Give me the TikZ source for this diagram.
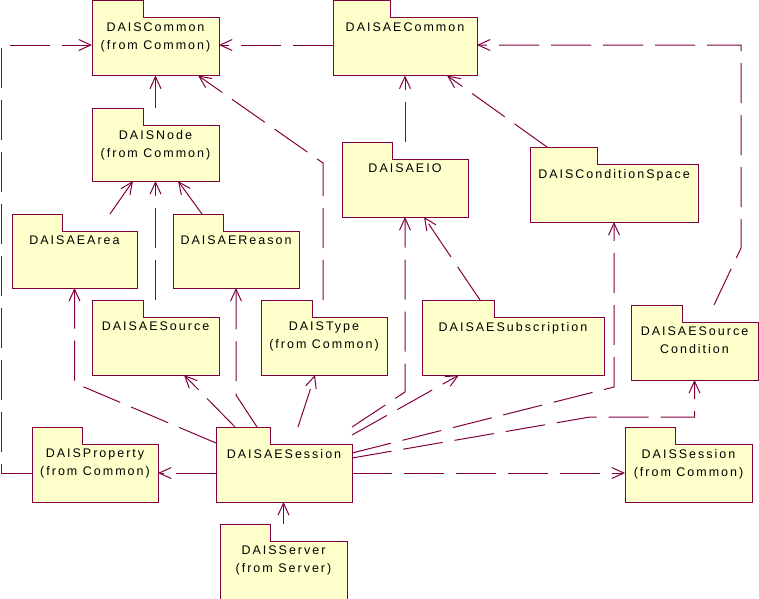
\documentclass[tikz,border=0pt]{standalone}
\usepackage{fontspec}
\setmainfont{Liberation Sans}[LetterSpace=16]
\usetikzlibrary{arrows.meta}

\definecolor{rosered}{RGB}{128,0,64}
\definecolor{roseyellow}{RGB}{255,255,204}

\tikzset{
  pkgline/.style={draw=rosered, fill=roseyellow, line width=1pt},
  pkg/.style={anchor=north west, inner sep=0pt, outer sep=0pt,
    label={[pkgtext]north:#1}},
  pkgtext/.style={anchor=north, yshift=-22pt, inner sep=0pt, align=center,
    font=\fontsize{12.5}{18}\selectfont},
  dep/.style={draw=rosered, line width=1pt, dash pattern=on 40pt off 12pt,
    -{Straight Barb[length=12pt, width=11pt]}},
}

% name, x, y, width, height, tab width, text
\newcommand{\pkg}[7]{%
  \draw[pkgline] (#2,#3) -- ++(#6,0) -- ++(0,17) -- (#2+#4,#3+17)
    -- (#2+#4,#3+#5) -- (#2,#3+#5) -- cycle;
  \node[pkg={#7}, minimum width=#4pt, minimum height=#5pt] (#1) at (#2,#3) {};
}

\begin{document}
\begin{tikzpicture}[x=1pt, y=-1pt]
  \useasboundingbox (0,0) rectangle (759,598);

  \pkg{DAISCommon}{92}{0.5}{127}{75}{51}{DAISCommon\\(from Common)}
  \pkg{DAISAECommon}{333}{0.5}{144}{75}{57}{DAISAECommon}
  \pkg{DAISNode}{92}{108}{127}{73}{51}{DAISNode\\(from Common)}
  \pkg{DAISAEIO}{342}{142}{126}{75}{50}{DAISAEIO}
  \pkg{DAISConditionSpace}{530}{147}{168}{75}{67}{DAISConditionSpace}
  \pkg{DAISAEArea}{12}{214}{125}{74}{50}{DAISAEArea}
  \pkg{DAISAEReason}{173}{214}{126}{74}{50}{DAISAEReason}
  \pkg{DAISAESource}{92}{300}{127}{75}{51}{DAISAESource}
  \pkg{DAISType}{261}{300}{126}{75}{51}{DAISType\\(from Common)}
  \pkg{DAISAESubscription}{422}{300}{182}{75}{72}{DAISAESubscription}
  \pkg{DAISAESourceCondition}{631}{305}{127}{75}{51}{DAISAESource\\Condition}
  \pkg{DAISProperty}{32}{427}{126}{75}{50}{DAISProperty\\(from Common)}
  \pkg{DAISAESession}{216}{427}{136}{75}{54}{DAISAESession}
  \pkg{DAISSession}{625}{427}{127}{75}{50}{DAISSession\\(from Common)}
  \pkg{DAISServer}{220}{524}{127}{78}{50}{DAISServer\\(from Server)}

  % upper part
  \draw[dep] (DAISProperty.west |- 0,473) -| (1,45) -- (DAISCommon.west |- 0,45);
  \draw[dep] (DAISAECommon.west |- 0,45) -- (DAISCommon.east |- 0,45);
  \draw[dep] (DAISNode.north) -- (DAISCommon.south);
  \draw[dep] (DAISType.north -| 323,0) -- (323,163) -- (DAISCommon.south -| 198,0);
  \draw[dep] (DAISAEArea.north -| 110,0) -- (DAISNode.south -| 133,0);
  \draw[dep] (DAISAESource.north) -- (DAISNode.south);
  \draw[dep] (DAISAEReason.north -| 202,0) -- (DAISNode.south -| 178,0);
  \draw[dep] (DAISAEIO.north) -- (DAISAEIO.north |- DAISAECommon.south);
  \draw[dep] (DAISConditionSpace.north -| 547,0) -- (DAISAECommon.south -| 447,0);
  \draw[dep] (DAISAESourceCondition.north -| 714,0) -- (741,248) -- (741,45)
    -- (DAISAECommon.east |- 0,45);
  \draw[dep] (DAISAESubscription.north -| 480,0) -- (DAISAEIO.south -| 424,0);

  % from the session
  \draw[dep] (DAISAESession.west |- 0,443) -- (74.5,383) -- (DAISAEArea.south);
  \draw[dep] (DAISAESession.north -| 235,0) -- (DAISAESource.south -| 184,0);
  \draw[dep] (DAISAESession.north -| 257,0) -- (236,395) -- (DAISAEReason.south);
  \draw[dep] (DAISAESession.north -| 298,0) -- (DAISType.south -| 315,0);
  \draw[dep] (DAISAESession.north east) -- (405,392) -- (DAISAEIO.south);
  \draw[dep] (DAISAESession.east |- 0,435) -- (DAISAESubscription.south -| 459,0);
  \draw[dep] (DAISAESession.east |- 0,453) -- (614,387) -- (DAISConditionSpace.south);
  \draw[dep] (DAISAESession.east |- 0,458) -- (590,417) -- (694.5,417)
    -- (DAISAESourceCondition.south);
  \draw[dep] (DAISAESession.east |- 0,473) -- (DAISSession.west |- 0,473);
  \draw[dep] (DAISAESession.west |- 0,473) -- (DAISProperty.east |- 0,473);
  \draw[dep] (DAISServer.north) -- (DAISServer.north |- DAISAESession.south);
\end{tikzpicture}
\end{document}
